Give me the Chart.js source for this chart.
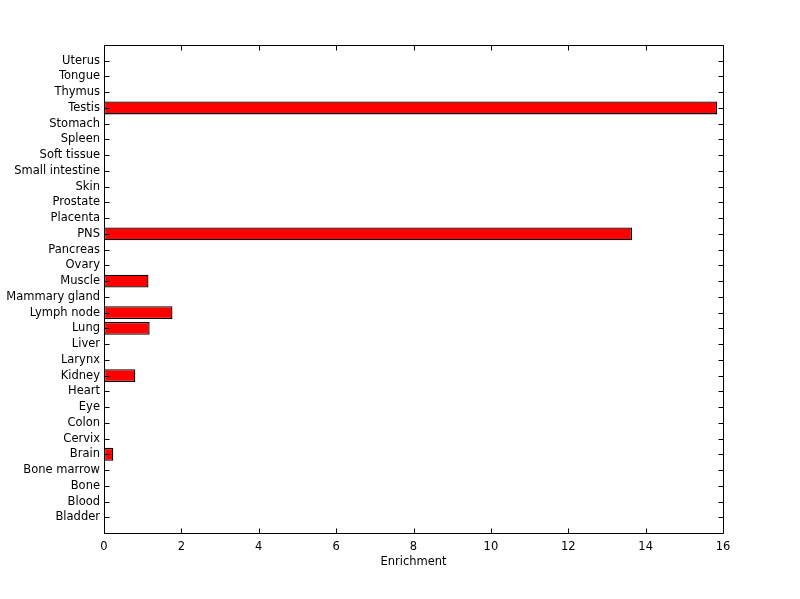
<!DOCTYPE html>
<html>
<head>
<meta charset="utf-8">
<script src="https://cdn.jsdelivr.net/npm/chart.js@4/dist/chart.umd.min.js"></script>
<style>
  html, body { margin: 0; padding: 0; background: #fff; }
  #wrap { width: 800px; height: 599px; }
</style>
</head>
<body>
<div id="wrap"><canvas id="enrichChart" width="800" height="599"></canvas></div>
<script>
// tissues, bottom to top
const tissues = ['Bladder', 'Blood', 'Bone', 'Bone marrow', 'Brain', 'Cervix', 'Colon', 'Eye',
    'Heart', 'Kidney', 'Larynx', 'Liver', 'Lung', 'Lymph node', 'Mammary gland', 'Muscle',
    'Ovary', 'Pancreas', 'PNS', 'Placenta', 'Prostate', 'Skin', 'Small intestine',
    'Soft tissue', 'Spleen', 'Stomach', 'Testis', 'Thymus', 'Tongue', 'Uterus'];
const enrichment = [0, 0, 0, 0, 0.24, 0, 0, 0,
    0, 0.81, 0, 0, 1.18, 1.77, 0, 1.15,
    0, 0, 13.65, 0, 0, 0, 0,
    0, 0, 0, 15.85, 0, 0, 0];
const xTicks = [0, 2, 4, 6, 8, 10, 12, 14, 16];

const FONT = { family: '"DejaVu Sans", sans-serif', size: 11.5 };

// matlab style box with inward ticks on all four sides
const boxTicks = {
    id: 'boxTicks',
    afterDraw(chart) {
        const ctx = chart.ctx;
        const a = chart.chartArea;
        const xs = chart.scales.x, ys = chart.scales.y;
        const len = 5;
        ctx.save();
        ctx.strokeStyle = '#000';
        ctx.lineWidth = 1;
        ctx.beginPath();
        const L = Math.round(a.left) + 0.5, R = Math.round(a.right) + 0.5;
        const T = Math.round(a.top) + 0.5, B = Math.round(a.bottom) + 0.5;
        ctx.rect(L, T, R - L, B - T);
        xTicks.forEach(v => {
            const px = Math.round(xs.getPixelForValue(v)) + 0.5;
            ctx.moveTo(px, B); ctx.lineTo(px, B - len);
            ctx.moveTo(px, T); ctx.lineTo(px, T + len);
        });
        tissues.forEach((t, i) => {
            const py = Math.round(ys.getPixelForValue(i + 1)) + 0.5;
            ctx.moveTo(L, py); ctx.lineTo(L + len, py);
            ctx.moveTo(R, py); ctx.lineTo(R - len, py);
        });
        ctx.stroke();
        ctx.restore();
    }
};

new Chart(document.getElementById('enrichChart'), {
    type: 'bar',
    data: {
        datasets: [{
            data: enrichment.map((v, i) => ({ x: v, y: i + 1 })),
            backgroundColor: '#ff0000',
            borderColor: '#000000',
            borderWidth: 1.3,
            borderSkipped: false,
            inflateAmount: 0,
            barPercentage: 0.82,
            categoryPercentage: 1.0
        }]
    },
    options: {
        indexAxis: 'y',
        responsive: false,
        animation: false,
        layout: { padding: { top: 45, right: 77, bottom: 30, left: 0 } },
        plugins: { legend: { display: false }, tooltip: { enabled: false } },
        scales: {
            x: {
                type: 'linear',
                min: 0, max: 16,
                afterBuildTicks: s => { s.ticks = xTicks.map(v => ({ value: v })); },
                afterFit: s => { s.height = 36; },
                grid: { display: false, drawTicks: false },
                border: { display: false },
                ticks: { color: '#000', font: FONT, padding: 7, maxRotation: 0 },
                title: { display: true, text: 'Enrichment', color: '#000', font: FONT, padding: 0 }
            },
            y: {
                type: 'linear',
                offset: false,
                min: 0, max: tissues.length + 1,
                afterBuildTicks: s => { s.ticks = tissues.map((t, i) => ({ value: i + 1 })); },
                afterFit: s => { s.width = 104; },
                grid: { display: false, drawTicks: false },
                border: { display: false },
                ticks: {
                    color: '#000', font: FONT, padding: 4, autoSkip: false,
                    callback: v => tissues[v - 1] || ''
                }
            }
        }
    },
    plugins: [boxTicks]
});
</script>
</body>
</html>
